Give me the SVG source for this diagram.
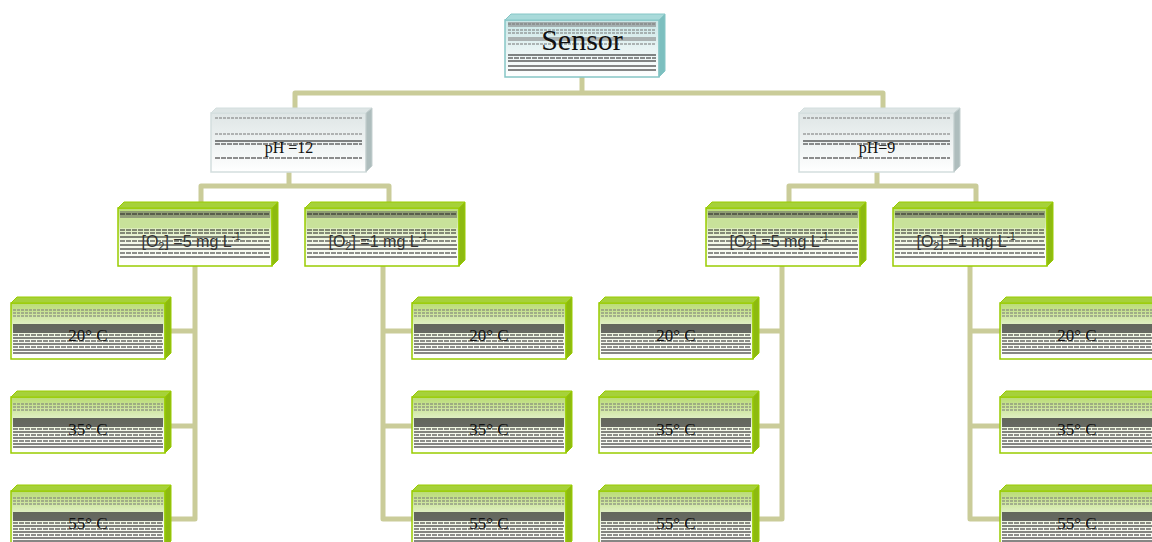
<svg xmlns="http://www.w3.org/2000/svg" xmlns:xlink="http://www.w3.org/1999/xlink" width="1152" height="542" viewBox="0 0 1152 542">
<style>
.conn{fill:none;stroke:#CACC99;stroke-width:5;stroke-linejoin:round;stroke-linecap:butt}
.gFront{fill:url(#gGreen);stroke:#99CC00;stroke-width:1.5}
.gTop{fill:#A6D13A;stroke:#99CC00;stroke-width:1}
.gSide{fill:#8DBA10;stroke:#99CC00;stroke-width:1}
.pFront{fill:url(#gGrey);stroke:#D3DEDE;stroke-width:1.5}
.pTop{fill:#DDE5E5;stroke:#D3DEDE;stroke-width:1}
.pSide{fill:#AEBDBD;stroke:#C5D0D0;stroke-width:1}
.sFront{fill:url(#gTeal);stroke:#86C6C6;stroke-width:1.5}
.sTop{fill:#A9DADA;stroke:#86C6C6;stroke-width:1}
.sSide{fill:#7CBFBF;stroke:#86C6C6;stroke-width:1}
.serif{font-family:"Liberation Serif","Times New Roman",serif;fill:#111;text-anchor:middle}
.sans{font-family:"Liberation Sans",Arial,sans-serif;fill:#333;text-anchor:middle}
.dl{stroke:#222;stroke-width:1.2;stroke-dasharray:5 1}
.gl{stroke:#777;stroke-width:1.2;stroke-dasharray:3 1}
.bl{stroke:#111;stroke-width:1.2}
</style>
<defs>
<linearGradient id="gGreen" x1="0" y1="0" x2="0" y2="1">
<stop offset="0" stop-color="#B9DC73"/><stop offset="0.35" stop-color="#DCEDBC"/><stop offset="0.6" stop-color="#F4F9EA"/><stop offset="1" stop-color="#FFFFFF"/>
</linearGradient>
<linearGradient id="gGrey" x1="0" y1="0" x2="0" y2="1">
<stop offset="0" stop-color="#DFE6E6"/><stop offset="0.5" stop-color="#EEF2F2"/><stop offset="1" stop-color="#FFFFFF"/>
</linearGradient>
<linearGradient id="gTeal" x1="0" y1="0" x2="0" y2="1">
<stop offset="0" stop-color="#C9E6E6"/><stop offset="0.5" stop-color="#E8F4F4"/><stop offset="1" stop-color="#FFFFFF"/>
</linearGradient>
<g id="fxLeaf">
<line class="gl" x1="2" y1="7" x2="152" y2="7"/><line class="gl" x1="2" y1="10" x2="152" y2="10"/><line class="gl" x1="2" y1="13" x2="152" y2="13"/>
<rect x="2" y="21" width="150" height="9" fill="#3A3A3A" opacity="0.75"/>
<line class="dl" x1="2" y1="32" x2="152" y2="32"/><line class="bl" x1="2" y1="35" x2="152" y2="35"/><line class="dl" x1="2" y1="38" x2="152" y2="38"/><line class="bl" x1="2" y1="41" x2="152" y2="41"/><line class="dl" x1="2" y1="44" x2="152" y2="44"/><line class="bl" x1="2" y1="47" x2="152" y2="47"/><line class="bl" x1="2" y1="50" x2="152" y2="50"/>
</g>
<g id="fxO2">
<rect x="2" y="3" width="150" height="7" fill="#666" opacity="0.55"/>
<line class="dl" x1="2" y1="6" x2="152" y2="6"/>
<rect x="2" y="11" width="150" height="9" fill="#C8E29A"/>
<line class="dl" x1="2" y1="22" x2="152" y2="22"/><line class="dl" x1="2" y1="25" x2="152" y2="25"/>
<line class="bl" x1="2" y1="29" x2="152" y2="29"/><line class="dl" x1="2" y1="33" x2="152" y2="33"/><line class="bl" x1="2" y1="37" x2="152" y2="37"/><line class="bl" x1="2" y1="41" x2="152" y2="41"/><line class="dl" x1="2" y1="45" x2="152" y2="45"/><line class="bl" x1="2" y1="49" x2="152" y2="49"/>
</g>
<g id="fxPh">
<line class="gl" x1="4" y1="5" x2="151" y2="5"/>
<line class="gl" x1="4" y1="21" x2="151" y2="21" stroke-width="2"/>
<line class="bl" x1="4" y1="28" x2="151" y2="28" stroke-width="2"/><line class="dl" x1="4" y1="31" x2="151" y2="31"/>
<line class="dl" x1="4" y1="45" x2="151" y2="45" stroke-width="2"/>
</g>
<g id="fxSensor">
<rect x="3" y="2" width="148" height="5" fill="#888" opacity="0.6"/>
<line class="gl" x1="3" y1="4" x2="151" y2="4"/><line class="gl" x1="3" y1="10" x2="151" y2="10"/><line class="gl" x1="3" y1="13" x2="151" y2="13"/>
<rect x="3" y="17" width="148" height="4" fill="#888" opacity="0.6"/><line class="gl" x1="3" y1="24" x2="151" y2="24"/>
<line class="bl" x1="3" y1="35" x2="151" y2="35"/><line class="dl" x1="3" y1="38" x2="151" y2="38"/><line class="bl" x1="3" y1="41" x2="151" y2="41"/><line class="bl" x1="3" y1="46" x2="151" y2="46"/><line class="bl" x1="3" y1="50" x2="151" y2="50"/>
</g>
<g id="leafShape">
<rect class="gFront" x="0" y="6" width="154" height="56"/>
<polygon class="gTop" points="0,6 6,0 160,0 154,6"/>
<polygon class="gSide" points="154,6 160,0 160,56 154,62"/>
<use xlink:href="#fxLeaf" href="#fxLeaf" x="0" y="6"/>
</g>
<g id="o2Shape">
<rect class="gFront" x="0" y="6" width="154" height="58"/>
<polygon class="gTop" points="0,6 6,0 160,0 154,6"/>
<polygon class="gSide" points="154,6 160,0 160,58 154,64"/>
<use xlink:href="#fxO2" href="#fxO2" x="0" y="6"/>
</g>
<g id="phShape">
<rect class="pFront" x="0" y="5" width="155" height="59"/>
<polygon class="pTop" points="0,5 5,0 161,0 155,5"/>
<polygon class="pSide" points="155,5 161,0 161,58 155,64"/>
<use xlink:href="#fxPh" href="#fxPh" x="0" y="5"/>
</g>
</defs>
<rect width="1152" height="542" fill="#FFFFFF"/>
<g id="connectors">
<path class="conn" d="M582,77 V93"/>
<path class="conn" d="M295,108 V93 H883 V108"/>
<path class="conn" d="M289,172 V186"/>
<path class="conn" d="M201,202 V186 H389 V202"/>
<path class="conn" d="M877,172 V186"/>
<path class="conn" d="M789,202 V186 H976 V202"/>
<path class="conn" d="M195,266 V519 H171 M195,331 H171 M195,426 H171"/>
<path class="conn" d="M383,266 V519 H412 M383,331 H412 M383,426 H412"/>
<path class="conn" d="M782,266 V519 H759 M782,331 H759 M782,426 H759"/>
<path class="conn" d="M970,266 V519 H1000 M970,331 H1000 M970,426 H1000"/>
</g>
<g id="sensor">
<rect class="sFront" x="505" y="20" width="154" height="57"/>
<polygon class="sTop" points="505,20 511,14 665,14 659,20"/>
<polygon class="sSide" points="659,20 665,14 665,71 659,77"/>
<use xlink:href="#fxSensor" href="#fxSensor" x="505" y="20"/>
<text class="serif" x="582" y="50" font-size="30">Sensor</text>
</g>
<g id="ph12">
<use xlink:href="#phShape" href="#phShape" x="211" y="108"/>
<text class="serif" x="289" y="153" font-size="16">pH =12</text>
</g>
<g id="ph9">
<use xlink:href="#phShape" href="#phShape" x="799" y="108"/>
<text class="serif" x="877" y="153" font-size="16">pH=9</text>
</g>
<g id="o2-5-left">
<use xlink:href="#o2Shape" href="#o2Shape" x="118" y="202"/>
<text class="sans" x="191" y="247" font-size="16">[O<tspan font-size="11" dy="3">2</tspan><tspan dy="-3">] =5 mg L</tspan><tspan font-size="10" dy="-7">-1</tspan></text>
</g>
<g id="o2-1-left">
<use xlink:href="#o2Shape" href="#o2Shape" x="305" y="202"/>
<text class="sans" x="378" y="247" font-size="16">[O<tspan font-size="11" dy="3">2</tspan><tspan dy="-3">] =1 mg L</tspan><tspan font-size="10" dy="-7">-1</tspan></text>
</g>
<g id="o2-5-right">
<use xlink:href="#o2Shape" href="#o2Shape" x="706" y="202"/>
<text class="sans" x="779" y="247" font-size="16">[O<tspan font-size="11" dy="3">2</tspan><tspan dy="-3">] =5 mg L</tspan><tspan font-size="10" dy="-7">-1</tspan></text>
</g>
<g id="o2-1-right">
<use xlink:href="#o2Shape" href="#o2Shape" x="893" y="202"/>
<text class="sans" x="966" y="247" font-size="16">[O<tspan font-size="11" dy="3">2</tspan><tspan dy="-3">] =1 mg L</tspan><tspan font-size="10" dy="-7">-1</tspan></text>
</g>
<g id="leaf-a20"><use xlink:href="#leafShape" href="#leafShape" x="11" y="297"/><text class="serif" x="88" y="341" font-size="17">20° C</text></g>
<g id="leaf-a35"><use xlink:href="#leafShape" href="#leafShape" x="11" y="391"/><text class="serif" x="88" y="435" font-size="17">35° C</text></g>
<g id="leaf-a55"><use xlink:href="#leafShape" href="#leafShape" x="11" y="485"/><text class="serif" x="88" y="529" font-size="17">55° C</text></g>
<g id="leaf-b20"><use xlink:href="#leafShape" href="#leafShape" x="412" y="297"/><text class="serif" x="489" y="341" font-size="17">20° C</text></g>
<g id="leaf-b35"><use xlink:href="#leafShape" href="#leafShape" x="412" y="391"/><text class="serif" x="489" y="435" font-size="17">35° C</text></g>
<g id="leaf-b55"><use xlink:href="#leafShape" href="#leafShape" x="412" y="485"/><text class="serif" x="489" y="529" font-size="17">55° C</text></g>
<g id="leaf-c20"><use xlink:href="#leafShape" href="#leafShape" x="599" y="297"/><text class="serif" x="676" y="341" font-size="17">20° C</text></g>
<g id="leaf-c35"><use xlink:href="#leafShape" href="#leafShape" x="599" y="391"/><text class="serif" x="676" y="435" font-size="17">35° C</text></g>
<g id="leaf-c55"><use xlink:href="#leafShape" href="#leafShape" x="599" y="485"/><text class="serif" x="676" y="529" font-size="17">55° C</text></g>
<g id="leaf-d20"><use xlink:href="#leafShape" href="#leafShape" x="1000" y="297"/><text class="serif" x="1077" y="341" font-size="17">20° C</text></g>
<g id="leaf-d35"><use xlink:href="#leafShape" href="#leafShape" x="1000" y="391"/><text class="serif" x="1077" y="435" font-size="17">35° C</text></g>
<g id="leaf-d55"><use xlink:href="#leafShape" href="#leafShape" x="1000" y="485"/><text class="serif" x="1077" y="529" font-size="17">55° C</text></g>
</svg>
